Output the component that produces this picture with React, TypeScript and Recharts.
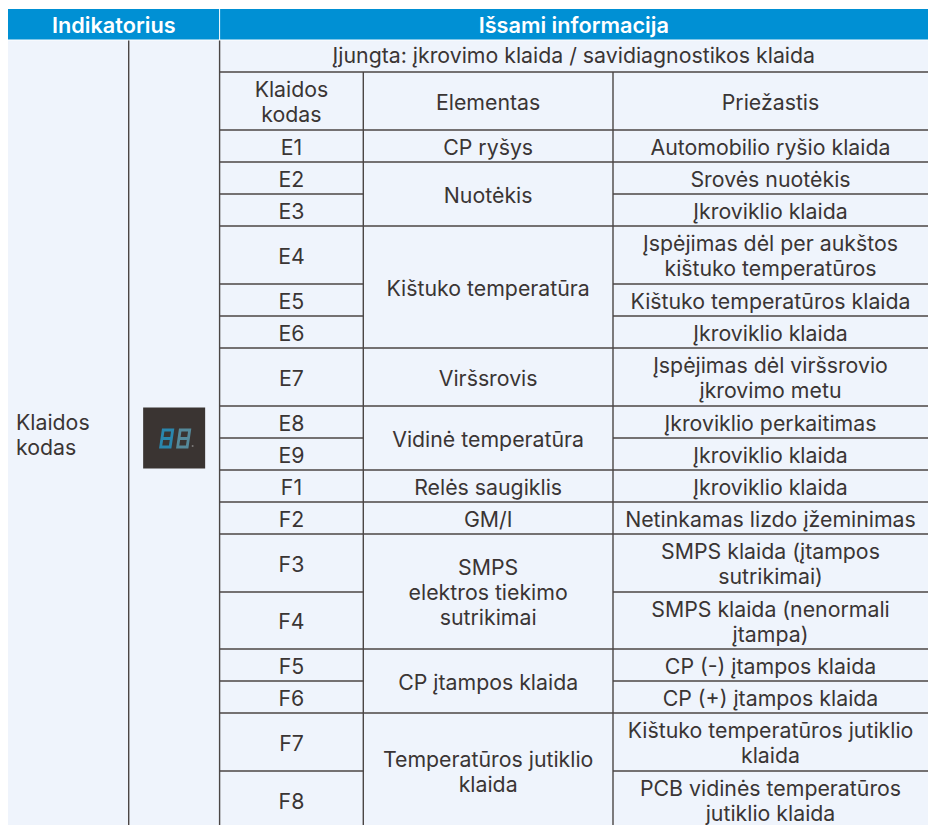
import React from 'react';
import { ScatterChart, Scatter, XAxis, YAxis, ReferenceLine, ReferenceArea } from 'recharts';

const W = 928, H = 825;
const FONT = 'Inter, sans-serif';
const INK = '#3a3534';
const RULE = '#4b4645';

// table geometry (axis units = px)
const colEdges = [8, 128.7, 219.6, 363.3, 613, 928];
const headerEdges = [9, 39.6];
const bannerBottom = 69;
const rowEdges = [72, 130, 162, 194, 226, 284, 316, 348, 406, 438, 470, 502, 534, 592, 649, 681, 713, 771, 829];

const headerTitles = ['Indikatorius', 'Išsami informacija'];
const banner = 'Įjungta: įkrovimo klaida / savidiagnostikos klaida';
const sideLabel = 'Klaidos\nkodas';
const columnTitles = ['Klaidos\nkodas', 'Elementas', 'Priežastis'];
const codes = ['E1', 'E2', 'E3', 'E4', 'E5', 'E6', 'E7', 'E8', 'E9', 'F1', 'F2', 'F3', 'F4', 'F5', 'F6', 'F7', 'F8'];
const causes = [
  'Automobilio ryšio klaida', 'Srovės nuotėkis', 'Įkroviklio klaida',
  'Įspėjimas dėl per aukštos\nkištuko temperatūros', 'Kištuko temperatūros klaida', 'Įkroviklio klaida',
  'Įspėjimas dėl viršsrovio\nįkrovimo metu', 'Įkroviklio perkaitimas', 'Įkroviklio klaida',
  'Įkroviklio klaida', 'Netinkamas lizdo įžeminimas', 'SMPS klaida (įtampos\nsutrikimai)',
  'SMPS klaida (nenormali\nįtampa)', 'CP (-) įtampos klaida', 'CP (+) įtampos klaida',
  'Kištuko temperatūros jutiklio\nklaida', 'PCB vidinės temperatūros\njutiklio klaida',
];
const elements = [
  'CP ryšys', 'Nuotėkis', 'Kištuko temperatūra', 'Viršsrovis', 'Vidinė temperatūra', 'Relės saugiklis',
  'GM/I', 'SMPS\nelektros tiekimo\nsutrikimai', 'CP įtampos klaida', 'Temperatūros jutiklio\nklaida',
];
const elementSpans = [1, 2, 3, 1, 2, 1, 1, 2, 2, 2];
const displayValue = '88';

type Cell = { x: number; y: number; text: string; kind: string };
const mid = (a: number, b: number) => (a + b) / 2;
const cells: Cell[] = [];
cells.push({ x: mid(colEdges[0], colEdges[2]), y: mid(headerEdges[0], headerEdges[1]), text: headerTitles[0], kind: 'head' });
cells.push({ x: mid(colEdges[2], colEdges[5]), y: mid(headerEdges[0], headerEdges[1]), text: headerTitles[1], kind: 'head' });
cells.push({ x: mid(colEdges[2], colEdges[5]), y: mid(headerEdges[1], bannerBottom), text: banner, kind: 'body' });
cells.push({ x: 16, y: mid(headerEdges[1], rowEdges[rowEdges.length - 1]) - 0.5, text: sideLabel, kind: 'side' });
columnTitles.forEach((t, i) => cells.push({ x: mid(colEdges[i + 2], colEdges[i + 3]), y: mid(rowEdges[0], rowEdges[1]) + (i === 0 ? -0.5 : 0.5), text: t, kind: 'body' }));
codes.forEach((t, i) => cells.push({ x: mid(colEdges[2], colEdges[3]), y: mid(rowEdges[i + 1], rowEdges[i + 2]), text: t, kind: 'body' }));
causes.forEach((t, i) => cells.push({ x: mid(colEdges[4], colEdges[5]), y: mid(rowEdges[i + 1], rowEdges[i + 2]), text: t, kind: 'body' }));

const fullRules: number[] = [rowEdges[0], rowEdges[1]];
let cursor = 1;
elements.forEach((t, i) => {
  const next = cursor + elementSpans[i];
  cells.push({ x: mid(colEdges[3], colEdges[4]), y: mid(rowEdges[cursor], rowEdges[next]), text: t, kind: 'body' });
  fullRules.push(rowEdges[next]);
  cursor = next;
});
const splitRules = rowEdges.slice(2, -1).filter((e) => !fullRules.includes(e));

const TextCell = (props: any) => {
  const { cx, cy, payload } = props;
  const lines: string[] = payload.text.split('\n');
  const lh = 25;
  const start = cy - ((lines.length - 1) * lh) / 2;
  const head = payload.kind === 'head';
  return (
    <text
      textAnchor={payload.kind === 'side' ? 'start' : 'middle'}
      fontFamily={FONT}
      fontSize={head ? 21.7 : 21.3}
      fontWeight={head ? 600 : 400}
      fill={head ? '#ffffff' : INK}
    >
      {lines.map((l, i) => (
        <tspan key={i} x={cx} y={start + i * lh + 8.7}>{l}</tspan>
      ))}
    </text>
  );
};

// seven segment digits of the panel
const SegDigit = ({ x, y, color }: { x: number; y: number; color: string }) => {
  const s = 0.15, w = 9.5, h = 17;
  const px = (a: number, b: number) => `${x + a + (h - b) * s},${y + b}`;
  return (
    <path
      d={`M${px(0, 0)} L${px(w, 0)} L${px(w, h)} L${px(0, h)} Z M${px(0, h / 2)} L${px(w, h / 2)}`}
      fill="none"
      stroke={color}
      strokeWidth={2.8}
    />
  );
};

const Panel = (props: any) => {
  const { cx, cy, payload } = props;
  const digits: string[] = payload.text.split('');
  return (
    <g>
      <rect x={cx - 31} y={cy - 31} width={62} height={61} fill="#3a3432" />
      {digits.map((_, i) => (
        <SegDigit key={i} x={cx - 13.5 + i * 17} y={cy - 8.5} color={i === 0 ? '#2a86ad' : '#55899a'} />
      ))}
      <circle cx={cx + 18.5} cy={cy + 7.5} r={1} fill="#7c7a7a" />
    </g>
  );
};

const textData = cells;
const panelData = [{ x: mid(colEdges[1], colEdges[2]), y: 438.5, text: displayValue }];

export default function App() {
  const bottom = H;
  return (
    <div style={{ position: 'absolute', left: 0, top: 0, width: W, height: H, overflow: 'hidden', background: '#fff' }}>
      <ScatterChart width={W} height={H} margin={{ top: 0, right: 0, bottom: 0, left: 0 }}>
        <XAxis type="number" dataKey="x" domain={[0, W]} hide />
        <YAxis type="number" dataKey="y" domain={[0, H]} reversed hide />
        <ReferenceArea x1={colEdges[0]} x2={colEdges[5]} y1={headerEdges[1] + 1} y2={bottom} fill="#eff4fc" fillOpacity={1} stroke="none" />
        <ReferenceArea x1={colEdges[0]} x2={colEdges[2] - 0.5} y1={headerEdges[0]} y2={headerEdges[1]} fill="#0090d4" fillOpacity={1} stroke="none" />
        <ReferenceArea x1={colEdges[2] + 0.5} x2={colEdges[5]} y1={headerEdges[0]} y2={headerEdges[1]} fill="#0090d4" fillOpacity={1} stroke="none" />
        {[colEdges[1], colEdges[2]].map((x) => (
          <ReferenceLine key={x} segment={[{ x, y: headerEdges[1] + 1 }, { x, y: bottom }]} stroke={RULE} strokeWidth={1.4} />
        ))}
        {[colEdges[3], colEdges[4]].map((x) => (
          <ReferenceLine key={x} segment={[{ x, y: rowEdges[0] }, { x, y: bottom }]} stroke={RULE} strokeWidth={1.4} />
        ))}
        {fullRules.filter((y) => y < bottom).map((y) => (
          <ReferenceLine key={y} segment={[{ x: colEdges[2], y }, { x: colEdges[5], y }]} stroke={RULE} strokeWidth={1.4} />
        ))}
        {splitRules.map((y) => (
          <ReferenceLine key={`l${y}`} segment={[{ x: colEdges[2], y }, { x: colEdges[3], y }]} stroke={RULE} strokeWidth={1.4} />
        ))}
        {splitRules.map((y) => (
          <ReferenceLine key={`r${y}`} segment={[{ x: colEdges[4], y }, { x: colEdges[5], y }]} stroke={RULE} strokeWidth={1.4} />
        ))}
        <Scatter data={panelData} shape={Panel} isAnimationActive={false} />
        <Scatter data={textData} shape={TextCell} isAnimationActive={false} />
      </ScatterChart>
    </div>
  );
}
